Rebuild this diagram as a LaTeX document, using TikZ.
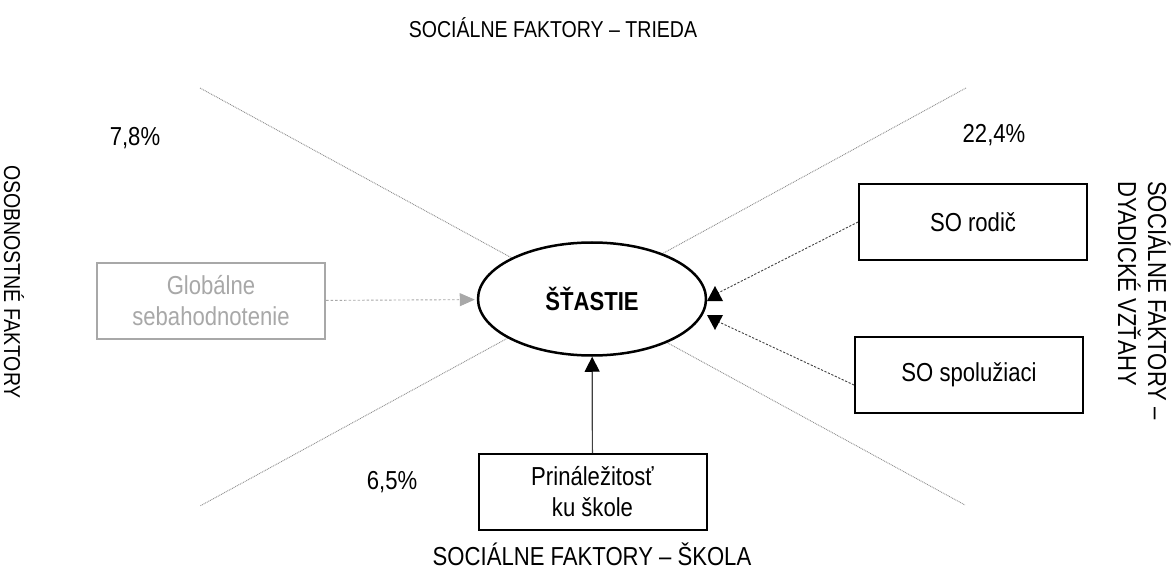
\documentclass[tikz,border=0pt]{standalone}
\usepackage{fontspec}
\setmainfont{Liberation Sans}[FakeStretch=0.85]
\usetikzlibrary{shapes.geometric,arrows.meta,calc}
\definecolor{lgray}{HTML}{A8A8A8}
\definecolor{dgray}{HTML}{404040}
\definecolor{xgray}{HTML}{8C8C8C}
\begin{document}
\begin{tikzpicture}[x=1pt,y=-1pt,
  every node/.style={font=\fontsize{26}{31}\selectfont},
  box/.style={draw=black,line width=2pt,minimum width=228pt,minimum height=76pt,inner sep=0pt,align=center,fill=white},
  gbox/.style={box,draw=lgray,text=lgray},
  hap/.style={ellipse,draw=black,line width=2.5pt,fill=white,minimum width=228pt,minimum height=113pt,inner sep=0pt,font=\fontsize{26}{31}\selectfont\bfseries},
  xline/.style={draw=xgray,line width=0.9pt,dash pattern=on 0.9pt off 0.9pt},
  darr/.style={draw=dgray,line width=0.9pt,dash pattern=on 2.2pt off 1.6pt},
  garr/.style={draw=lgray,line width=0.9pt,dash pattern=on 2.5pt off 2pt,-{Triangle[length=15pt,width=13pt,fill=lgray]}},
  sarr/.style={draw=dgray,line width=1.2pt,-{Triangle[length=15pt,width=15pt,fill=black,color=black]}},
  tip/.style={fill=black},
  lbl/.style={inner sep=0pt},
  side/.style={inner sep=0pt,rotate=-90}
]
\useasboundingbox (0,0) rectangle (1174,569);
% crossing dotted lines
\coordinate (tl) at (200,88);
\coordinate (tr) at (966,88);
\coordinate (bl) at (200,506);
\coordinate (br) at (965,505);
\draw[xline] (tl) -- (br);
\draw[xline] (tr) -- (bl);
% central ellipse
\node[hap] (hap) at (592,299) {ŠŤASTIE};
% boxes
\node[gbox] (glob) at (211,301) {Globálne\\sebahodnotenie};
\node[box] (rod) at (973,222) {SO rodič};
\node[box] (spol) at (969,375) {SO spolužiaci};
\node[box] (pri) at (592.5,492) {Prináležitosť\\ku škole};
% connectors
\draw[garr,shorten >=2pt] (glob) -- (hap);
\draw[sarr] (pri) -- (hap);
\coordinate (ta) at (718,293);
\coordinate (tb) at (719,322);
\draw[darr] (rod.west) -- (ta);
\draw[darr] ($(spol.west)+(0,10)$) -- (tb);
\fill[tip] (715,286) -- (707,301) -- (723,301) -- cycle;
\fill[tip] (707,315) -- (723,315) -- (715,330) -- cycle;
% percentages
\node[lbl] (p1) at (135,138) {7,8\%};
\node[lbl] (p2) at (994,135) {22,4\%};
\node[lbl] (p3) at (392,482) {6,5\%};
% factor labels
\node[lbl,font=\fontsize{23}{28}\selectfont] (top) at (553,28) {SOCIÁLNE FAKTORY – TRIEDA};
\node[lbl,anchor=base] (bot) at (592,565) {SOCIÁLNE FAKTORY – ŠKOLA};
\node[side,font=\fontsize{23}{28}\selectfont] (left) at (14,282) {OSOBNOSTNÉ FAKTORY};
\node[side,anchor=base west] (r1) at (1148,181) {SOCIÁLNE FAKTORY –};
\node[side,anchor=base west] (r2) at (1118,181) {DYADICKÉ VZŤAHY};
\end{tikzpicture}
\end{document}
